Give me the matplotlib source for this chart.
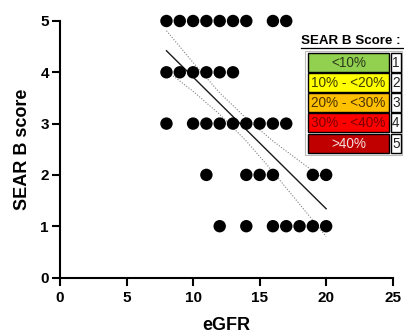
import matplotlib
matplotlib.use("Agg")
import matplotlib.pyplot as plt
from matplotlib.patches import Rectangle

plt.rcParams['font.family'] = ['Liberation Sans', 'DejaVu Sans']

# ---- data ----
x_score5 = [8, 9, 10, 11, 12, 13, 14, 16, 17]
x_score4 = [8, 9, 10, 11, 12, 13]
x_score3 = [8, 10, 11, 12, 13, 14, 15, 16, 17]
x_score2 = [11, 14, 15, 16, 19, 20]
x_score1 = [12, 14, 16, 17, 18, 19, 20]
scores = [5, 4, 3, 2, 1]

fit_x = [8, 20]
fit_y = [4.42, 1.34]

band_x = [8, 10, 12, 14, 16, 18, 20]
band_upper = [4.81, 4.19, 3.60, 3.10, 2.66, 2.27, 1.89]
band_lower = [4.03, 3.63, 3.18, 2.66, 2.06, 1.43, 0.80]

x_ticks = [0, 5, 10, 15, 20, 25]
y_ticks = [0, 1, 2, 3, 4, 5]

legend_title = "SEAR B Score :"
legend_labels = ["<10%", "10% - <20%", "20% - <30%", "30% - <40%", ">40%"]
legend_numbers = ["1", "2", "3", "4", "5"]
legend_colors = ["#92D050", "#FFFF00", "#FFC000", "#FF0000", "#C00000"]
legend_text_colors = ["#2b3a1c", "#3d3d00", "#4a3300", "#7a0000", "#f6dede"]

# ---- figure ----
W, H = 404, 334
fig = plt.figure(figsize=(W / 100, H / 100), dpi=100)
ax = fig.add_axes([60 / W, 1 - 277.5 / H, (392.7 - 60) / W, (277.5 - 21) / H])

# confidence band and fit
ax.plot(band_x, band_upper, color="#808080", lw=0.8, ls=(0, (1, 1.5)), zorder=2)
ax.plot(band_x, band_lower, color="#808080", lw=0.8, ls=(0, (1, 1.5)), zorder=2)
ax.plot(fit_x, fit_y, color="#1a1a1a", lw=1.0, zorder=2)

groups = [x_score5, x_score4, x_score3, x_score2, x_score1]
for xs, s in zip(groups, scores):
    ax.scatter(xs, [s] * len(xs), s=80, color="black", edgecolors="none",
               zorder=3, clip_on=False)

ax.set_xlim(0, 25)
ax.set_ylim(0, 5)
ax.set_xticks(x_ticks)
ax.set_yticks(y_ticks)
ax.set_xticklabels([str(t) for t in x_ticks], fontsize=11, fontweight="bold")
ax.set_yticklabels([str(t) for t in y_ticks], fontsize=11, fontweight="bold")
ax.tick_params(axis="x", length=6, width=1.5, color="black", pad=4)
ax.tick_params(axis="y", length=6, width=1.5, color="black", pad=2)
for side in ["top", "right"]:
    ax.spines[side].set_visible(False)
for side in ["left", "bottom"]:
    ax.spines[side].set_linewidth(1.5)
ax.set_xlabel("eGFR", fontsize=13, fontweight="bold", labelpad=8)
ax.set_ylabel("SEAR B score", fontsize=13, fontweight="bold", labelpad=7)

# ---- legend table (overlay in pixel coords) ----
ov = fig.add_axes([0, 0, 1, 1], zorder=5)
ov.set_xlim(0, W)
ov.set_ylim(H, 0)
ov.axis("off")
ov.patch.set_alpha(0)

ov.text(301, 41.5, legend_title, fontsize=9.6, fontweight="bold", ha="left",
        va="center", color="black")
ov.plot([301, 403], [47.5, 47.5], color="black", lw=0.9)

# outer box
ov.add_patch(Rectangle((305, 50.7), 97, 104.5, facecolor="white",
                       edgecolor="#bbbbbb", lw=0.8))
row_top = 52.7
row_h = 20.2
for i, (lab, num, c, tc) in enumerate(zip(legend_labels, legend_numbers,
                                          legend_colors, legend_text_colors)):
    y0 = row_top + i * row_h
    ov.add_patch(Rectangle((307.7, y0), 81.6, row_h - 1.2, facecolor=c,
                           edgecolor="black", lw=1.0))
    ov.add_patch(Rectangle((390.5, y0), 10.8, row_h - 1.2, facecolor="white",
                           edgecolor="black", lw=1.0))
    ov.text(348.5, y0 + (row_h - 1.2) / 2 + 0.5, lab, fontsize=9.8, ha="center",
            va="center", color=tc)
    ov.text(395.9, y0 + (row_h - 1.2) / 2 + 0.5, num, fontsize=9.8, ha="center",
            va="center", color="#222222")

fig.savefig("out.png", dpi=100)
